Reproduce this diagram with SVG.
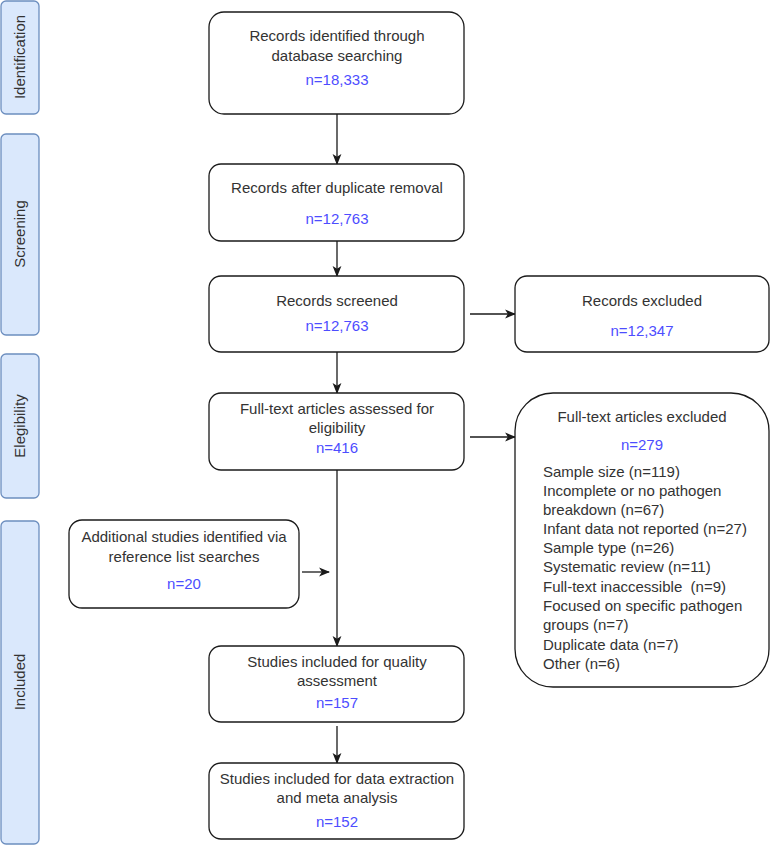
<svg xmlns="http://www.w3.org/2000/svg" width="771" height="846" viewBox="0 0 771 846">
<style>
.bar{fill:#dae8fc;stroke:#6c8ebf;stroke-width:1.3}
.box{fill:#fff;stroke:#1a1a1a;stroke-width:1.3}
text{font-family:"Liberation Sans",Arial,sans-serif;font-size:15px;fill:#333}
.c{text-anchor:middle}
.n{fill:#4d4dff}
.edge{stroke:#1a1a1a;stroke-width:1.3;fill:none;marker-end:url(#ah)}
</style>
<defs>
<marker id="ah" viewBox="0 0 10 10" refX="9" refY="5" markerWidth="11" markerHeight="11" markerUnits="userSpaceOnUse" orient="auto">
<path d="M0,1 L10,5 L0,9 L2.5,5 Z" fill="#1a1a1a"/>
</marker>
</defs>
<rect width="771" height="846" fill="#fff"/>
<g id="lane-identification"><rect class="bar" x="1" y="1" width="38" height="113" rx="5"/><text class="c" transform="translate(25,57) rotate(-90)">Identification</text></g>
<g id="lane-screening"><rect class="bar" x="1" y="134" width="38" height="201" rx="5"/><text class="c" transform="translate(25,234) rotate(-90)">Screening</text></g>
<g id="lane-eligibility"><rect class="bar" x="1" y="354" width="38" height="144" rx="5"/><text class="c" transform="translate(25,426) rotate(-90)">Elegibility</text></g>
<g id="lane-included"><rect class="bar" x="1" y="521" width="38" height="323" rx="5"/><text class="c" transform="translate(25,682) rotate(-90)">Included</text></g>

<g id="connectors">
<path class="edge" d="M337,114 V164"/>
<path class="edge" d="M337,241 V276"/>
<path class="edge" d="M337,352 V393"/>
<path class="edge" d="M337,470 V646"/>
<path class="edge" d="M337,726 V763"/>
<path class="edge" d="M470,314 H515"/>
<path class="edge" d="M470,437 H515"/>
<path class="edge" d="M302,572 H329"/>
</g>

<g id="n-identified"><rect class="box" x="209" y="12" width="255" height="102" rx="15"/>
<text class="c" x="337" y="41">Records identified through</text>
<text class="c" x="337" y="61">database searching</text>
<text class="c n" x="337" y="85">n=18,333</text></g>

<g id="n-dedup"><rect class="box" x="209" y="164" width="255" height="77" rx="12"/>
<text class="c" x="337" y="193">Records after duplicate removal</text>
<text class="c n" x="337" y="224">n=12,763</text></g>

<g id="n-screened"><rect class="box" x="209" y="276" width="255" height="76" rx="12"/>
<text class="c" x="337" y="306">Records screened</text>
<text class="c n" x="337" y="331">n=12,763</text></g>

<g id="n-rec-excluded"><rect class="box" x="515" y="276" width="254" height="76" rx="12"/>
<text class="c" x="642" y="306">Records excluded</text>
<text class="c n" x="642" y="336">n=12,347</text></g>

<g id="n-fulltext"><rect class="box" x="209" y="393" width="255" height="77" rx="12"/>
<text class="c" x="337" y="414">Full-text articles assessed for</text>
<text class="c" x="337" y="433">eligibility</text>
<text class="c n" x="337" y="453">n=416</text></g>

<g id="n-ft-excluded"><rect class="box" x="515" y="393" width="254" height="294" rx="38"/>
<text class="c" x="642" y="422">Full-text articles excluded</text>
<text class="c n" x="642" y="450">n=279</text>
<text x="543" y="477">Sample size (n=119)</text>
<text x="543" y="496">Incomplete or no pathogen</text>
<text x="543" y="515">breakdown (n=67)</text>
<text x="543" y="534">Infant data not reported (n=27)</text>
<text x="543" y="553">Sample type (n=26)</text>
<text x="543" y="572">Systematic review (n=11)</text>
<text x="543" y="592" xml:space="preserve">Full-text inaccessible  (n=9)</text>
<text x="543" y="611">Focused on specific pathogen</text>
<text x="543" y="630">groups (n=7)</text>
<text x="543" y="650">Duplicate data (n=7)</text>
<text x="543" y="669">Other (n=6)</text></g>

<g id="n-additional"><rect class="box" x="69" y="520" width="230" height="88" rx="13"/>
<text class="c" x="184" y="542">Additional studies identified via</text>
<text class="c" x="184" y="562">reference list searches</text>
<text class="c n" x="184" y="589">n=20</text></g>

<g id="n-quality"><rect class="box" x="209" y="646" width="255" height="76" rx="12"/>
<text class="c" x="337" y="667">Studies included for quality</text>
<text class="c" x="337" y="686">assessment</text>
<text class="c n" x="337" y="708">n=157</text></g>

<g id="n-meta"><rect class="box" x="209" y="763" width="255" height="76" rx="12"/>
<text class="c" x="337" y="784">Studies included for data extraction</text>
<text class="c" x="337" y="803">and meta analysis</text>
<text class="c n" x="337" y="827">n=152</text></g>
</svg>
